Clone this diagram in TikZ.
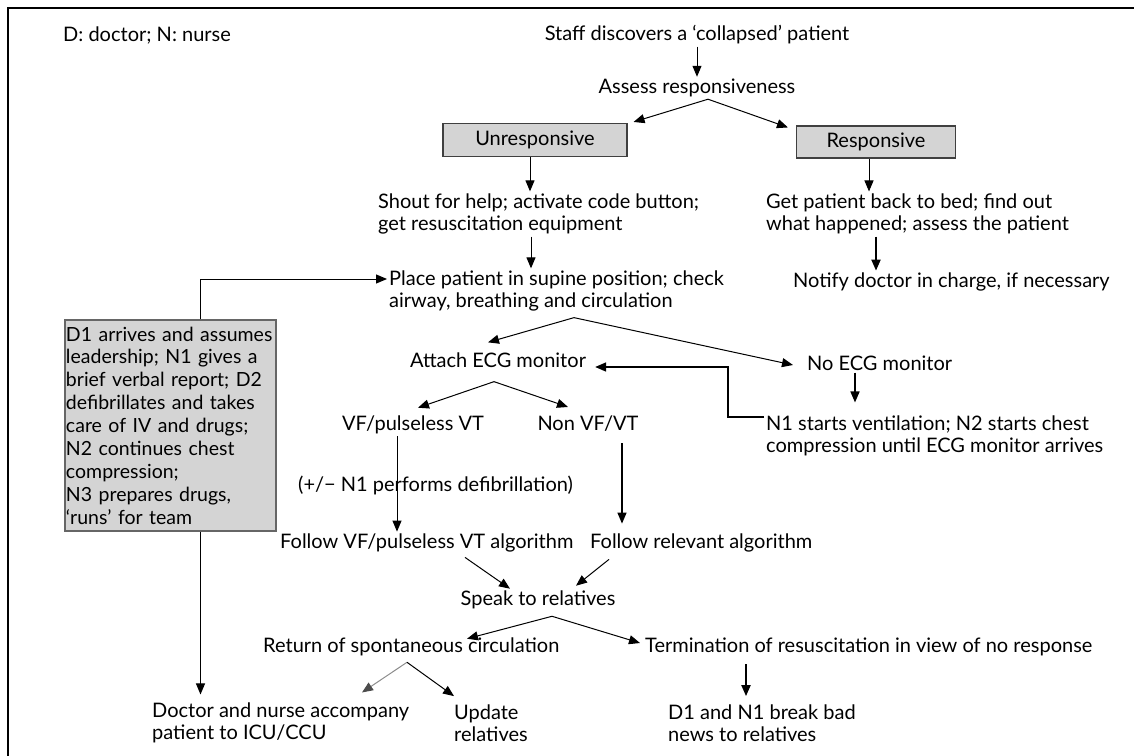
\documentclass[tikz,border=0pt]{standalone}
\usepackage{fontspec}
\setmainfont{Lato}
\usetikzlibrary{arrows.meta}
\begin{document}
\begin{tikzpicture}[x=1bp,y=-1bp,
  font=\fontsize{20bp}{22.5bp}\selectfont,
  txt/.style={inner sep=2bp, align=left},
  gbox/.style={draw=black!75, fill=black!17, line width=1.1bp, minimum height=33bp, inner sep=2bp},
  dbox/.style={draw=black!60, fill=black!17, line width=1.1bp, text width=209bp, minimum height=211bp, inner sep=1bp, align=left,
    font=\fontsize{19.5bp}{22.9bp}\selectfont,
    execute at begin node={\hyphenpenalty=10000\exhyphenpenalty=10000\hbadness=10000\hfuzz=20bp}},
  arr/.style={draw=black, line width=1bp, -{Triangle[length=11bp,width=9bp]}},
  arrT/.style={arr, line width=2bp},
  arrG/.style={draw=black!45, line width=1bp, -{Triangle[length=11bp,width=9bp,color=black!70]}},
  frame/.style={draw=black, line width=1.6bp}]
\useasboundingbox (0,0) rectangle (1134,756);
\draw[frame] (1134,8) -- (8,8) -- (8,756);

\node[txt, anchor=west] (legend) at (61,35) {D: doctor; N: nurse};
\node[txt] (staff) at (697,35) {Staff discovers a ‘collapsed’ patient};
\node[txt] (assess) at (697,88) {Assess responsiveness};
\node[gbox, minimum width=184bp] (unres) at (535,140) {Unresponsive};
\node[gbox, minimum width=159bp, minimum height=32bp] (resp) at (876,142) {Responsive};
\node[txt, anchor=west] (shout) at (376,214) {Shout for help; activate code button;\\get resuscitation equipment};
\node[txt, anchor=west] (getpat) at (764,214) {Get patient back to bed; find out\\what happened; assess the patient};
\node[txt, anchor=west] (place) at (387,291) {Place patient in supine position; check\\airway, breathing and circulation};
\node[txt, anchor=west] (notify) at (791,282) {Notify doctor in charge, if necessary};
\node[dbox] (d1box) at (170.5,425.5) {D1 arrives and assumes\\leadership; N1 gives a\\brief verbal report; D2\\defibrillates and takes\\care of IV and drugs;\\N2 continues chest\\compression;\\N3 prepares drugs,\\‘runs’ for team};
\node[txt] (attach) at (498,360) {Attach ECG monitor};
\node[txt, anchor=west] (noecg) at (805,363) {No ECG monitor};
\node[txt, anchor=west] (n1) at (764,436) {N1 starts ventilation; N2 starts chest\\compression until ECG monitor arrives};
\node[txt] (vf) at (413,425) {VF/pulseless VT};
\node[txt] (nonvf) at (588,424) {Non VF/VT};
\node[txt, anchor=west] (followvf) at (278,543) {Follow VF/pulseless VT algorithm};
\node[txt, anchor=west] (followrel) at (588,543) {Follow relevant algorithm};
\node[txt] (speak) at (538,600) {Speak to relatives};
\node[txt, anchor=west] (rosc) at (261,647) {Return of spontaneous circulation};
\node[txt, anchor=west] (term) at (643,647) {Termination of resuscitation in view of no response};
\node[txt, anchor=west] (doctor) at (150,723) {Doctor and nurse accompany\\patient to ICU/CCU};
\node[txt, anchor=west] (update) at (452,723) {Update\\relatives};
\node[txt, anchor=west] (d1n1) at (666,723) {D1 and N1 break bad\\news to relatives};

% connectors
\draw[arr] (staff.south) -- (assess.north);
\draw[arr] ([xshift=11bp]assess.south) -- ([xshift=6bp,yshift=1bp]unres.north east);
\draw[arr] ([xshift=11bp]assess.south) -- ([xshift=-8bp,yshift=-2bp]resp.north west);
\draw[arr] ([xshift=-5bp]unres.south) -- ([xshift=-5bp]unres.south |- shout.north);
\draw[arr] ([xshift=-7bp]resp.south) -- ([xshift=-7bp]resp.south |- getpat.north);
\draw[arr] ([xshift=-4bp]unres.south |- shout.south) -- ([xshift=-4bp]unres.south |- place.north);
\draw[arrT] (resp.south |- getpat.south) -- (resp.south |- notify.north);
\draw[arr] ([xshift=30bp]d1box.north) |- ([yshift=12bp]place.west);
\draw[arr] ([xshift=30bp]d1box.south) -- ([xshift=30bp,yshift=6bp]d1box.south |- doctor.north);
\draw[arr] ([xshift=187bp,yshift=-4bp]place.south west) -- ([xshift=-10bp,yshift=8bp]attach.north);
\draw[arr] ([xshift=187bp,yshift=-4bp]place.south west) -- ([xshift=-12bp,yshift=-2bp]noecg.west);
\draw[arr, line width=1.6bp] ([xshift=50bp]noecg.south west) -- ([xshift=50bp,yshift=11bp]noecg.south west |- n1.north);
\draw[arr, line width=1.6bp] ([yshift=19bp]n1.west) -- ++(-36,0) |- ([xshift=7bp,yshift=-7bp]attach.east);
\draw[arr] ([xshift=-4bp,yshift=-12bp]attach.south) -- ([xshift=5bp,yshift=6bp]vf.north);
\draw[arr] ([xshift=-4bp,yshift=-12bp]attach.south) -- ([xshift=-20bp,yshift=7bp]nonvf.north);
\draw[arr] ([xshift=-16bp]vf.south) -- ([xshift=-16bp]vf.south |- followvf.north);
\node[txt, anchor=west] (defib) at (296,485) {(+/− N1 performs defibrillation)};
\draw[arr, line width=1.3bp] ([xshift=34bp,yshift=-9bp]nonvf.south) -- ([xshift=34bp,yshift=8bp]nonvf.south |- followrel.north);
\draw[arr] ([xshift=187bp,yshift=-3bp]followvf.south west) -- ([xshift=-28bp]speak.north);
\draw[arr] ([xshift=21bp,yshift=-5bp]followrel.south west) -- ([xshift=38bp,yshift=3bp]speak.north);
\draw[arr] ([xshift=14bp,yshift=-5bp]speak.south) -- ([xshift=206bp,yshift=-3bp]rosc.north west);
\draw[arr] ([xshift=14bp,yshift=-5bp]speak.south) -- ([xshift=-3bp,yshift=4bp]term.west);
\draw[arrG] ([xshift=146bp,yshift=-4bp]rosc.south west) -- ([xshift=212bp,yshift=8bp]doctor.north west);
\draw[arr] ([xshift=146bp,yshift=-4bp]rosc.south west) -- ([xshift=2bp,yshift=6bp]update.north west);
\draw[arrT] ([xshift=103bp,yshift=-6bp]term.south west) -- ([xshift=103bp,yshift=6bp]term.south west |- d1n1.north);
\end{tikzpicture}
\end{document}
